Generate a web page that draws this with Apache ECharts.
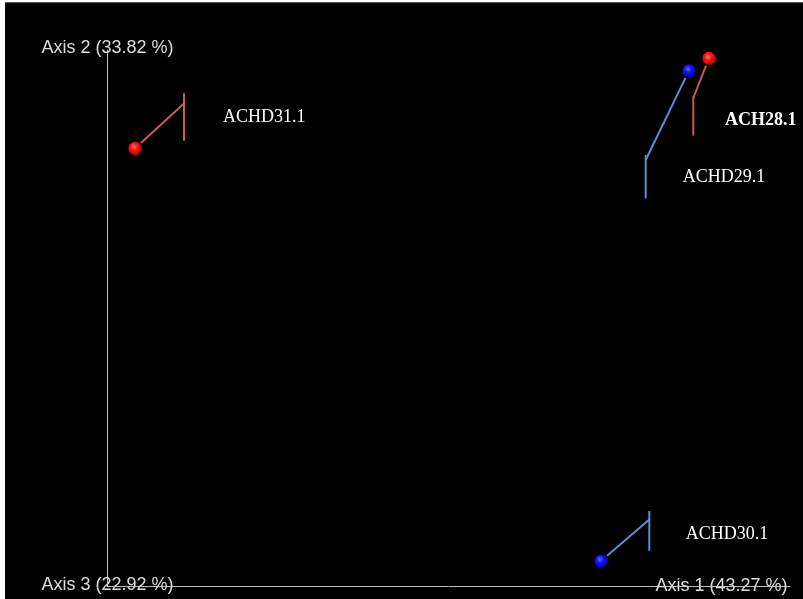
<!DOCTYPE html>
<html>
<head>
<meta charset="utf-8">
<title>PCoA biplot</title>
<script src="https://cdn.jsdelivr.net/npm/echarts@6/dist/echarts.min.js"></script>
<style>
  html, body { margin: 0; padding: 0; background: #ffffff; }
  #wrap { position: relative; width: 803px; height: 599px; overflow: hidden; }
  #chart { position: absolute; left: 0; top: 0; width: 803px; height: 599px; background: #000000; }
  .edge { position: absolute; background: #ffffff; }
</style>
</head>
<body>
<div id="wrap">
  <div id="chart"></div>
  <div class="edge" style="left:0;top:0;width:803px;height:2px;"></div>
  <div class="edge" style="left:0;top:0;width:5px;height:599px;"></div>
  <div class="edge" style="left:5px;top:2px;width:798px;height:1px;background:#5a5a5a;"></div>
</div>
<script>
// Sample ordination scores (PCoA)
const sampleNames = ['ACHD31.1', 'ACH28.1', 'ACHD29.1', 'ACHD30.1'];
const axis1Scores = [-0.3985, 0.1755, 0.1555, 0.0675];
const axis2Scores = [0.0612, 0.1512, 0.1388, -0.3515];
const sampleGroups = ['A', 'A', 'B', 'B'];
const highlighted = ['ACH28.1'];

// Percent variance explained per axis
const axisTitles = ['Axis 1 (43.27 %)', 'Axis 2 (33.82 %)', 'Axis 3 (22.92 %)'];

// Visible extent of the two drawn axes
const axis1Range = [-0.4265, 0.2565];
const axis2Range = [-0.3765, 0.1595];

// Colours per group
const groupStyle = {
  A: { line: '#c85a5a', stops: ['#ff7a7a', '#ff1010', '#c80000'] },
  B: { line: '#5b8fd1', stops: ['#6a6aff', '#1010ff', '#0000b8'] }
};

// Leader layout for each label, in pixels: elbow relative to the dot,
// bracket extent relative to the elbow, text anchor relative to the elbow.
const leaderLayout = {
  'ACHD31.1': { ex: 49, ey: -44.8, top: -10.2, bottom: 37.2, tx: 39, ty: 13.5 },
  'ACH28.1': { ex: -15.7, ey: 39.7, top: -1.3, bottom: 37.7, tx: 31.7, ty: 22 },
  'ACHD29.1': { ex: -43.3, ey: 89.3, top: -5, bottom: 38.3, tx: 37, ty: 17.5 },
  'ACHD30.1': { ex: 48.3, ey: -41.5, top: -8.5, bottom: 31.2, tx: 36.4, ty: 14.5 }
};

const points = sampleNames.map((n, i) => [axis1Scores[i], axis2Scores[i], n, sampleGroups[i]]);

const chart = echarts.init(document.getElementById('chart'), null, { renderer: 'canvas' });

const axisLineStyle = { show: true, onZero: false, lineStyle: { color: '#bdbdbd', width: 1 } };
const axisTextStyle = { fill: '#dcdcdc', font: '18px "Liberation Sans", Arial, sans-serif', align: 'center', verticalAlign: 'middle' };

function renderSample(params, api) {
  const name = api.value(2);
  const group = api.value(3);
  const style = groupStyle[group];
  const p = api.coord([api.value(0), api.value(1)]);
  const L = leaderLayout[name];
  const ex = p[0] + L.ex, ey = p[1] + L.ey;
  const len = Math.hypot(L.ex, L.ey);
  const r = 6.5;
  const sx = p[0] + L.ex / len * (r + 1.5), sy = p[1] + L.ey / len * (r + 1.5);
  const bold = highlighted.indexOf(name) >= 0;
  return {
    type: 'group',
    children: [
      { type: 'line', shape: { x1: sx, y1: sy, x2: ex, y2: ey }, style: { stroke: style.line, lineWidth: 2 } },
      { type: 'line', shape: { x1: ex, y1: ey + L.top, x2: ex, y2: ey + L.bottom }, style: { stroke: style.line, lineWidth: 2 } },
      {
        type: 'circle', shape: { cx: p[0], cy: p[1], r: r },
        style: {
          fill: new echarts.graphic.RadialGradient(0.42, 0.38, 0.62, [
            { offset: 0, color: style.stops[0] },
            { offset: 0.45, color: style.stops[1] },
            { offset: 1, color: style.stops[2] }
          ])
        }
      },
      {
        type: 'text', x: ex + L.tx, y: ey + L.ty,
        style: {
          text: name, fill: '#ffffff',
          font: (bold ? 'bold ' : '') + '18px "Liberation Serif", "Times New Roman", serif',
          align: 'left', verticalAlign: 'middle'
        }
      }
    ]
  };
}

chart.setOption({
  backgroundColor: '#000000',
  animation: false,
  grid: { left: 107, right: 13, top: 50, bottom: 13 },
  xAxis: {
    type: 'value', min: axis1Range[0], max: axis1Range[1],
    axisLine: axisLineStyle, axisTick: { show: false }, axisLabel: { show: false }, splitLine: { show: false }
  },
  yAxis: {
    type: 'value', min: axis2Range[0], max: axis2Range[1],
    axisLine: axisLineStyle, axisTick: { show: false }, axisLabel: { show: false }, splitLine: { show: false }
  },
  graphic: [
    { type: 'text', x: 107.5, y: 48, z: 10, style: Object.assign({ text: axisTitles[1] }, axisTextStyle) },
    { type: 'text', x: 107.5, y: 585, z: 10, style: Object.assign({ text: axisTitles[2] }, axisTextStyle) },
    { type: 'text', x: 721.5, y: 586, z: 10, style: Object.assign({ text: axisTitles[0] }, axisTextStyle) }
  ],
  series: [{
    type: 'custom',
    coordinateSystem: 'cartesian2d',
    clip: false,
    data: points,
    renderItem: renderSample
  }]
});
</script>
</body>
</html>
